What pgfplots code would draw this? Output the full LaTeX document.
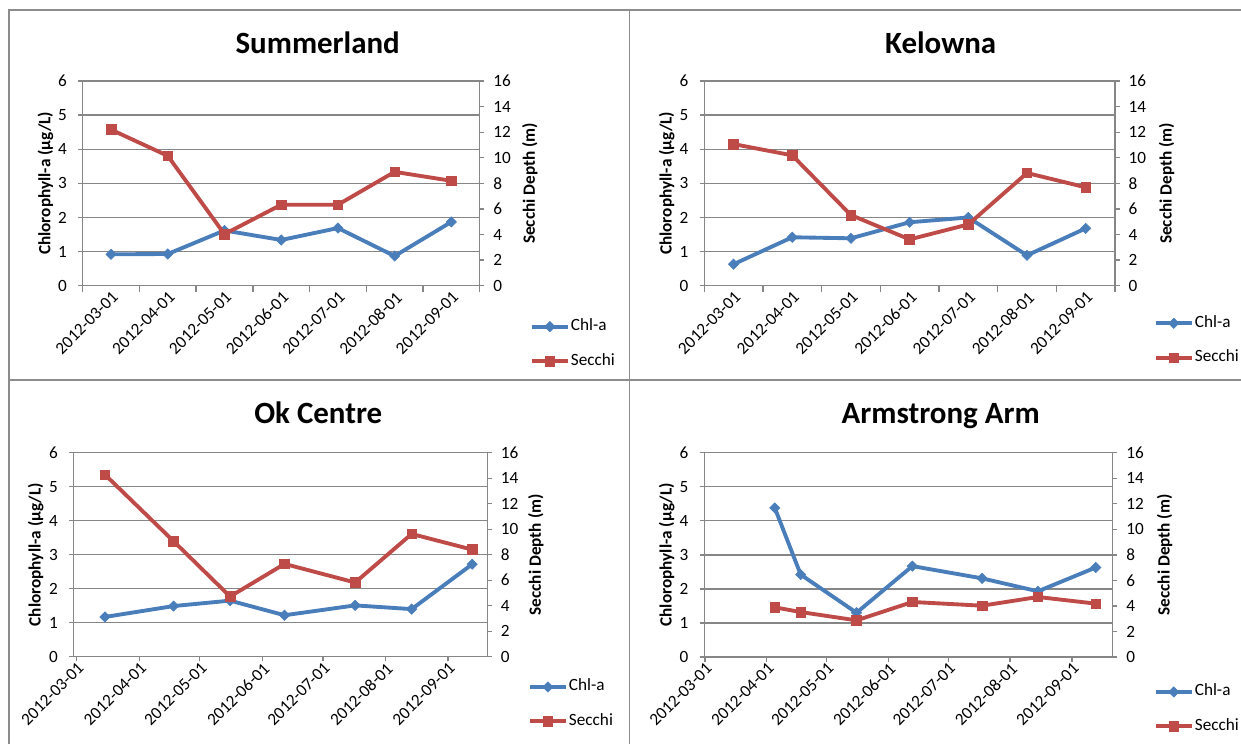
\documentclass[border=0pt]{standalone}
\usepackage{fontspec}
\setmainfont{Carlito}
\usepackage{pgfplots}
\pgfplotsset{compat=1.18}
\definecolor{axgray}{HTML}{868686}
\definecolor{chlblue}{HTML}{4A7EBB}
\definecolor{secred}{HTML}{BE4B48}
\definecolor{bordergray}{HTML}{8C8C8C}
\pgfplotsset{
  chl/.style={color=chlblue, line width=2.9pt, mark=square*, mark size=2.7pt,
    mark options={rotate=45, line width=0.5pt, fill=chlblue, solid}},
  sec/.style={color=secred, line width=2.9pt, mark=square*, mark size=3.6pt,
    mark options={line width=0.5pt, fill=secred, solid}},
  base/.style={scale only axis, clip=false, tick align=outside,
    major tick length=3.4pt, minor tick length=4.5pt,
    axis line style={draw=axgray, line width=1pt, -},
    tick style={draw=axgray, line width=1pt},
    tick label style={font=\fontsize{12.9}{15}\selectfont, text=black},
    /pgf/number format/assume math mode=true,
    label style={font=\fontsize{12.9}{15}\selectfont\bfseries},
  },
  leftax/.style={base, ymin=0, ymax=6, ytick={0,...,6},
    axis y line*=left, axis x line*=bottom,
    ymajorgrids, grid style={draw=axgray, line width=1pt},
    ylabel={Chlorophyll-a (µg/L)},
    yticklabel style={xshift=-5pt},
    xticklabel style={rotate=45, anchor=north east, inner sep=0pt},
  },
  rightax/.style={base, ymin=0, ymax=16, ytick={0,2,...,16},
    axis y line*=right, axis x line=none, xtick=\empty,
    ylabel={Secchi Depth (m)},
    yticklabel style={xshift=3.3pt},
    legend cell align=left,
    legend image code/.code={\draw[mark repeat=2,mark phase=2,##1] plot coordinates {(0pt,0pt) (13.35pt,0pt) (26.7pt,0pt)};},
  },
  catx/.style={xmin=-0.5, xmax=6.5, xtick={0,...,6},
    xticklabels={2012-03-01,2012-04-01,2012-05-01,2012-06-01,2012-07-01,2012-08-01,2012-09-01},
    minor xtick={-0.5,0.5,...,6.5}, major x tick style={draw=none}},
  datex/.style={xtick={0,31,61,92,122,153,184},
    xticklabels={2012-03-01,2012-04-01,2012-05-01,2012-06-01,2012-07-01,2012-08-01,2012-09-01}},
  legpos/.style 2 args={legend style={at={(axis description cs:1,0)}, anchor=north west,
    xshift=#1, yshift=#2, draw=none, fill=none, inner sep=0pt,
    font=\fontsize{12.9}{15}\selectfont, row sep=11.8pt,
    nodes={inner sep=1pt, text height=9pt, text depth=3pt}}},
}
\begin{document}
\begin{tikzpicture}
\useasboundingbox (0pt,0pt) rectangle (930.75pt,-558pt);
\begin{scope}[x=0.75pt,y=-0.75pt]
\draw[bordergray, line width=1pt] (9,744) -- (9,10) -- (1241,10);
\draw[bordergray, line width=1pt] (629.5,10) -- (629.5,744);
\draw[bordergray, line width=1pt] (9,380) -- (1241,380);
\node[anchor=base, font=\fontsize{23.2}{28}\selectfont\bfseries] at (317.7,53.3) {Summerland};
\node[anchor=base, font=\fontsize{23.2}{28}\selectfont\bfseries] at (940.7,53.3) {Kelowna};
\node[anchor=base, font=\fontsize{23.2}{28}\selectfont\bfseries] at (318.3,423.7) {Ok Centre};
\node[anchor=base, font=\fontsize{23.2}{28}\selectfont\bfseries] at (940.7,423.7) {Armstrong Arm};
\end{scope}

% ---------- Summerland ----------
\begin{axis}[leftax, catx, at={(62.03pt,-214.28pt)}, anchor=south west, width=297.75pt, height=153.53pt,
  ylabel style={at={(axis description cs:-0.0937,0.5)}, anchor=center}]
\addplot[chl] coordinates {(0,0.92)(1,0.93)(2,1.62)(3,1.34)(4,1.69)(5,0.87)(6,1.87)};
\end{axis}
\begin{axis}[rightax, xmin=-0.5, xmax=6.5, at={(62.03pt,-214.28pt)}, anchor=south west, width=297.75pt, height=153.53pt,
  ylabel style={at={(axis description cs:1.1264,0.5)}, anchor=center}, legpos={37.6pt}{-23.5pt}]
\addlegendimage{chl}
\addlegendentry{Chl-a}
\addplot[sec] coordinates {(0,12.2)(1,10.15)(2,4.03)(3,6.33)(4,6.33)(5,8.9)(6,8.2)};
\addlegendentry{Secchi}
\end{axis}

% ---------- Kelowna ----------
\begin{axis}[leftax, catx, at={(528.15pt,-214.28pt)}, anchor=south west, width=308.1pt, height=153.53pt,
  ylabel style={at={(axis description cs:-0.0913,0.5)}, anchor=center}]
\addplot[chl] coordinates {(0,0.63)(1,1.42)(2,1.39)(3,1.86)(4,2.0)(5,0.89)(6,1.68)};
\end{axis}
\begin{axis}[rightax, xmin=-0.5, xmax=6.5, at={(528.15pt,-214.28pt)}, anchor=south west, width=308.1pt, height=153.53pt,
  ylabel style={at={(axis description cs:1.1254,0.5)}, anchor=center}, legpos={29.1pt}{-21pt}]
\addlegendimage{chl}
\addlegendentry{Chl-a}
\addplot[sec] coordinates {(0,11.07)(1,10.19)(2,5.52)(3,3.62)(4,4.79)(5,8.81)(6,7.69)};
\addlegendentry{Secchi}
\end{axis}

% ---------- Ok Centre ----------
\begin{axis}[leftax, datex, xmin=-1.5, xmax=203.5, at={(55.28pt,-492.53pt)}, anchor=south west, width=310.2pt, height=153pt,
  ylabel style={at={(axis description cs:-0.0921,0.5)}, anchor=center}]
\addplot[chl] coordinates {(14,1.17)(48,1.49)(76,1.65)(103,1.22)(138,1.51)(166,1.40)(196,2.72)};
\end{axis}
\begin{axis}[rightax, xmin=-1.5, xmax=203.5, at={(55.28pt,-492.53pt)}, anchor=south west, width=310.2pt, height=153pt,
  ylabel style={at={(axis description cs:1.1173,0.5)}, anchor=center}, legpos={30.45pt}{-15.5pt}]
\addlegendimage{chl}
\addlegendentry{Chl-a}
\addplot[sec] coordinates {(14,14.28)(48,9.06)(76,4.72)(103,7.28)(138,5.82)(166,9.63)(196,8.40)};
\addlegendentry{Secchi}
\end{axis}

% ---------- Armstrong Arm ----------
\begin{axis}[leftax, datex, xmin=-0.4, xmax=204.5, at={(528.15pt,-492.75pt)}, anchor=south west, width=306.38pt, height=153.23pt,
  ylabel style={at={(axis description cs:-0.0918,0.5)}, anchor=center}]
\addplot[chl] coordinates {(35,4.38)(48,2.42)(76,1.30)(104,2.67)(139,2.31)(167,1.93)(196,2.63)};
\end{axis}
\begin{axis}[rightax, xmin=-0.4, xmax=204.5, at={(528.15pt,-492.75pt)}, anchor=south west, width=306.38pt, height=153.23pt,
  ylabel style={at={(axis description cs:1.1268,0.5)}, anchor=center}, legpos={30.8pt}{-19pt}]
\addlegendimage{chl}
\addlegendentry{Chl-a}
\addplot[sec] coordinates {(35,3.89)(48,3.52)(76,2.87)(104,4.31)(139,4.02)(167,4.70)(196,4.18)};
\addlegendentry{Secchi}
\end{axis}
\end{tikzpicture}
\end{document}
